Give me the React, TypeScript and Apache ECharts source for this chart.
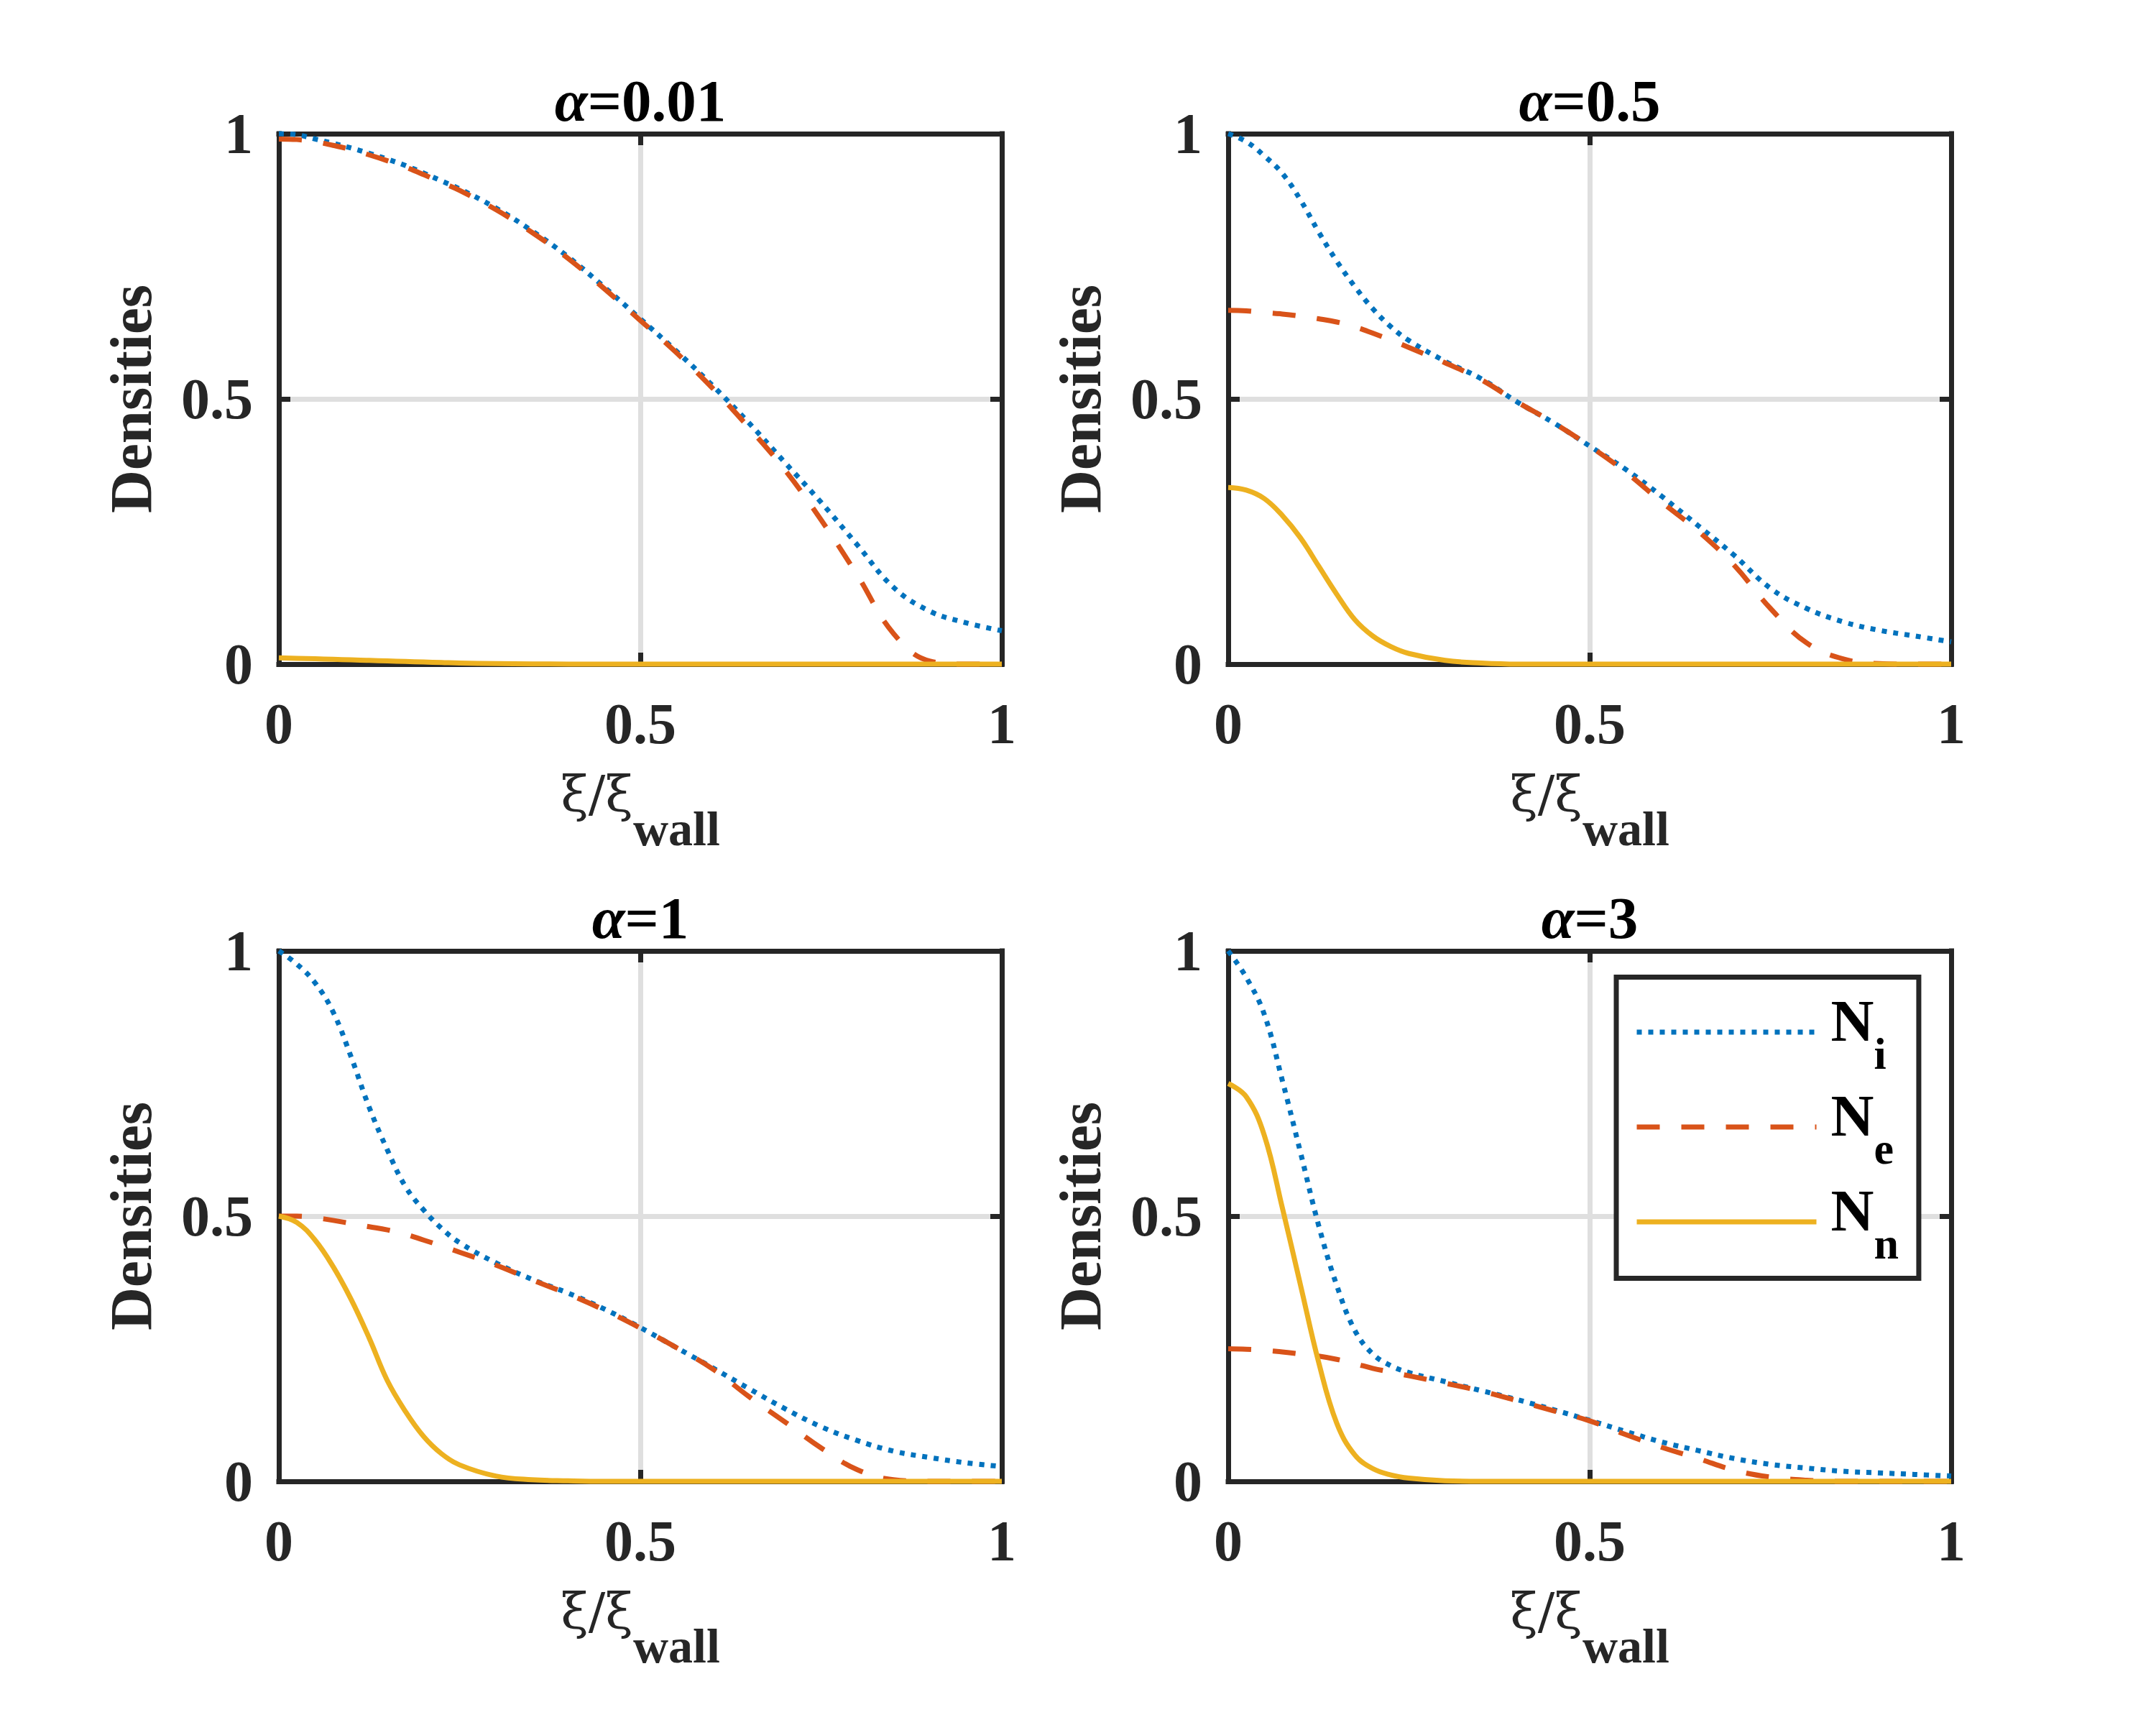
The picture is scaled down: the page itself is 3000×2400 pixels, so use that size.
import React, { useEffect, useRef } from "react";
import * as echarts from "echarts";

// ---- data ----
const xs = [0, 0.025, 0.05, 0.075, 0.1, 0.125, 0.15, 0.175, 0.2, 0.225, 0.25, 0.3, 0.35, 0.4, 0.45, 0.5, 0.55, 0.6, 0.65, 0.7, 0.75, 0.8, 0.85, 0.9, 0.95, 1];

const alphas = ["0.01", "0.5", "1", "3"];

// alpha = 0.01
const niA001 = [1.0, 0.998, 0.99, 0.982, 0.973, 0.963, 0.952, 0.94, 0.926, 0.911, 0.896, 0.86, 0.817, 0.768, 0.711, 0.651, 0.59, 0.525, 0.455, 0.38, 0.305, 0.225, 0.145, 0.1, 0.078, 0.063];
const neA001 = [0.99, 0.989, 0.985, 0.978, 0.97, 0.96, 0.949, 0.937, 0.923, 0.908, 0.893, 0.857, 0.814, 0.765, 0.708, 0.648, 0.587, 0.52, 0.446, 0.366, 0.272, 0.168, 0.058, 0.006, 0, 0];
const nnA001 = [0.012, 0.011, 0.01, 0.009, 0.008, 0.007, 0.006, 0.005, 0.004, 0.003, 0.002, 0.001, 0.0005, 0, 0, 0, 0, 0, 0, 0, 0, 0, 0, 0, 0, 0];

// alpha = 0.5
const niA05 = [1.0, 0.985, 0.958, 0.925, 0.875, 0.815, 0.76, 0.712, 0.67, 0.636, 0.61, 0.571, 0.538, 0.494, 0.455, 0.411, 0.367, 0.316, 0.261, 0.205, 0.143, 0.105, 0.08, 0.064, 0.053, 0.042];
const neA05 = [0.667, 0.666, 0.663, 0.66, 0.656, 0.651, 0.645, 0.636, 0.624, 0.611, 0.597, 0.568, 0.536, 0.494, 0.455, 0.411, 0.362, 0.305, 0.251, 0.186, 0.105, 0.04, 0.01, 0.001, 0, 0];
const nnA05 = [0.333, 0.328, 0.312, 0.28, 0.238, 0.185, 0.132, 0.084, 0.053, 0.033, 0.02, 0.007, 0.002, 0, 0, 0, 0, 0, 0, 0, 0, 0, 0, 0, 0, 0];

// alpha = 1
const niA1 = [1.0, 0.975, 0.94, 0.885, 0.8, 0.705, 0.625, 0.556, 0.512, 0.477, 0.45, 0.412, 0.381, 0.355, 0.325, 0.29, 0.252, 0.214, 0.175, 0.137, 0.103, 0.077, 0.057, 0.045, 0.035, 0.028];
const neA1 = [0.5, 0.5, 0.497, 0.492, 0.486, 0.48, 0.474, 0.466, 0.455, 0.444, 0.432, 0.408, 0.38, 0.353, 0.323, 0.289, 0.252, 0.212, 0.16, 0.112, 0.063, 0.022, 0.003, 0, 0, 0];
const nnA1 = [0.5, 0.488, 0.455, 0.405, 0.343, 0.27, 0.19, 0.132, 0.085, 0.052, 0.031, 0.01, 0.003, 0.001, 0, 0, 0, 0, 0, 0, 0, 0, 0, 0, 0, 0];

// alpha = 3
const niA3 = [1.0, 0.95, 0.88, 0.755, 0.62, 0.483, 0.37, 0.285, 0.24, 0.218, 0.205, 0.188, 0.171, 0.154, 0.135, 0.115, 0.094, 0.074, 0.058, 0.043, 0.032, 0.025, 0.019, 0.016, 0.013, 0.01];
const neA3 = [0.25, 0.249, 0.247, 0.244, 0.24, 0.236, 0.23, 0.222, 0.213, 0.206, 0.199, 0.185, 0.17, 0.152, 0.133, 0.114, 0.088, 0.064, 0.043, 0.021, 0.008, 0.002, 0, 0, 0, 0];
const nnA3 = [0.75, 0.725, 0.652, 0.515, 0.37, 0.225, 0.11, 0.05, 0.024, 0.012, 0.006, 0.001, 0, 0, 0, 0, 0, 0, 0, 0, 0, 0, 0, 0, 0, 0];

const seriesNames = ["Ni", "Ne", "Nn"];
const legendSubs: Record<string, string> = { Ni: "i", Ne: "e", Nn: "n" };
const xTickRange = [0, 1];
const yTickRange = [0, 1];
const tickStep = 0.5;

const panelData = [
  [niA001, neA001, nnA001],
  [niA05, neA05, nnA05],
  [niA1, neA1, nnA1],
  [niA3, neA3, nnA3],
];

// ---- styling / layout ----
const FONT = '"Liberation Serif", "Times New Roman", Times, serif';
const GREEK = '"DejaVu Serif", "Liberation Serif", serif';
const AX = "#262626";
const GRIDC = "#dfdfdf";
const COLORS = ["#0072BD", "#D95319", "#EDB120"];
const DASHES: any[] = [[7, 9], [32, 30], "solid"];
const GPOS = [
  [388, 186],
  [1709, 186],
  [388, 1323],
  [1709, 1323],
];
const GW = 1006;
const GH = 738;
const BW = 7;

function pairs(ys: number[]) {
  return xs.map((x, i) => [x, ys[i]]);
}

function buildOption() {
  const grid: any[] = [];
  const xAxis: any[] = [];
  const yAxis: any[] = [];
  const series: any[] = [];
  const title: any[] = [];

  GPOS.forEach(([l, t], i) => {
    grid.push({ left: l, top: t, width: GW, height: GH, containLabel: false });

    const common = {
      type: "value",
      gridIndex: i,
      interval: tickStep,
    };
    const lineOn = { show: true, onZero: false, lineStyle: { color: AX, width: BW, cap: "square" } };
    const tickOn = { show: true, inside: true, length: 16, lineStyle: { color: AX, width: BW } };

    // main x (bottom)
    xAxis.push({
      ...common,
      min: xTickRange[0],
      max: xTickRange[1],
      position: "bottom",
      z: 1,
      axisLine: lineOn,
      axisTick: tickOn,
      axisLabel: { show: true, margin: 43, fontSize: 80, fontWeight: "bold", fontFamily: FONT, color: AX },
      splitLine: { show: false },
      name: "{x|ξ/ξ}{s|wall}",
      nameLocation: "middle",
      nameGap: 99,
      nameTextStyle: {
        color: AX,
        rich: {
          x: { fontFamily: GREEK, fontSize: 70, color: AX, verticalAlign: "middle" },
          s: { fontFamily: FONT, fontSize: 68, fontWeight: "bold", color: AX, padding: [96, 0, 0, 0], verticalAlign: "middle" },
        },
      },
    });
    // top x (box + ticks)
    xAxis.push({
      ...common,
      min: xTickRange[0],
      max: xTickRange[1],
      position: "top",
      z: 1,
      axisLine: lineOn,
      axisTick: tickOn,
      axisLabel: { show: false },
      splitLine: { show: false },
    });
    // grid lines x
    xAxis.push({
      ...common,
      min: xTickRange[0],
      max: xTickRange[1],
      position: "bottom",
      z: 0,
      axisLine: { show: false, onZero: false },
      axisTick: { show: false },
      axisLabel: { show: false },
      splitLine: { show: true, showMinLine: false, showMaxLine: false, lineStyle: { color: GRIDC, width: BW } },
    });

    // main y (left)
    yAxis.push({
      ...common,
      min: yTickRange[0],
      max: yTickRange[1],
      position: "left",
      z: 1,
      axisLine: lineOn,
      axisTick: tickOn,
      axisLabel: { show: true, margin: 36, fontSize: 80, fontWeight: "bold", fontFamily: FONT, color: AX },
      splitLine: { show: false },
      name: "Densities",
      nameLocation: "middle",
      nameRotate: 90,
      nameGap: 165,
      nameTextStyle: { fontFamily: FONT, fontSize: 83, fontWeight: "bold", color: AX },
    });
    yAxis.push({
      ...common,
      min: yTickRange[0],
      max: yTickRange[1],
      position: "right",
      z: 1,
      axisLine: lineOn,
      axisTick: tickOn,
      axisLabel: { show: false },
      splitLine: { show: false },
    });
    yAxis.push({
      ...common,
      min: yTickRange[0],
      max: yTickRange[1],
      position: "left",
      z: 0,
      axisLine: { show: false, onZero: false },
      axisTick: { show: false },
      axisLabel: { show: false },
      splitLine: { show: true, showMinLine: false, showMaxLine: false, lineStyle: { color: GRIDC, width: BW } },
    });

    panelData[i].forEach((ys, k) => {
      series.push({
        type: "line",
        name: seriesNames[k],
        xAxisIndex: 3 * i,
        yAxisIndex: 3 * i,
        data: pairs(ys),
        symbol: "none",
        smooth: 0.4,
        clip: false,
        z: 2 + k * 0.01,
        lineStyle: { color: COLORS[k], width: BW, type: DASHES[k], cap: "butt", join: "round" },
        itemStyle: { color: COLORS[k] },
      });
    });

    title.push({
      text: "{a|α}{b|=" + alphas[i] + "}",
      left: l + GW / 2,
      top: t - 87.5,
      textAlign: "center",
      textVerticalAlign: "top",
      padding: 0,
      textStyle: {
        rich: {
          a: { fontFamily: FONT, fontStyle: "italic", fontSize: 83, color: "#000", verticalAlign: "middle" },
          b: { fontFamily: FONT, fontWeight: "bold", fontSize: 83, color: "#000", verticalAlign: "middle" },
        },
      },
    });
  });

  return {
    animation: false,
    backgroundColor: "#ffffff",
    title,
    grid,
    xAxis,
    yAxis,
    series,
    legend: {
      data: seriesNames.map((n, k) => ({ name: n, lineStyle: { color: COLORS[k], width: BW, type: DASHES[k], cap: "butt" } })),
      orient: "vertical",
      left: 2249,
      top: 1359.5,
      padding: [18.5, 28, 17.5, 25],
      itemGap: 13,
      itemWidth: 250,
      itemHeight: 20,
      backgroundColor: "#ffffff",
      borderColor: AX,
      borderWidth: BW,
      borderRadius: 0,
      selectedMode: false,
      itemStyle: { opacity: 0 },
      lineStyle: { width: BW },
      formatter: (n: string) => "{n|N}{s|" + legendSubs[n] + "}",
      textStyle: {
        rich: {
          n: { fontFamily: FONT, fontWeight: "bold", fontSize: 83, color: "#000", padding: [0, 0, 33, 15], verticalAlign: "middle" },
          s: { fontFamily: FONT, fontWeight: "bold", fontSize: 62, color: "#000", padding: [60, 0, 0, 0], verticalAlign: "middle" },
        },
      },
      z: 5,
    },
  };
}

export default function App() {
  const ref = useRef<HTMLDivElement>(null);
  useEffect(() => {
    if (!ref.current) return;
    const chart = echarts.init(ref.current, undefined, { renderer: "svg" });
    chart.setOption(buildOption() as any);
    return () => {
      chart.dispose();
    };
  }, []);
  return (
    <div
      ref={ref}
      style={{ position: "absolute", left: 0, top: 0, width: 3000, height: 2400, background: "#fff" }}
    />
  );
}
